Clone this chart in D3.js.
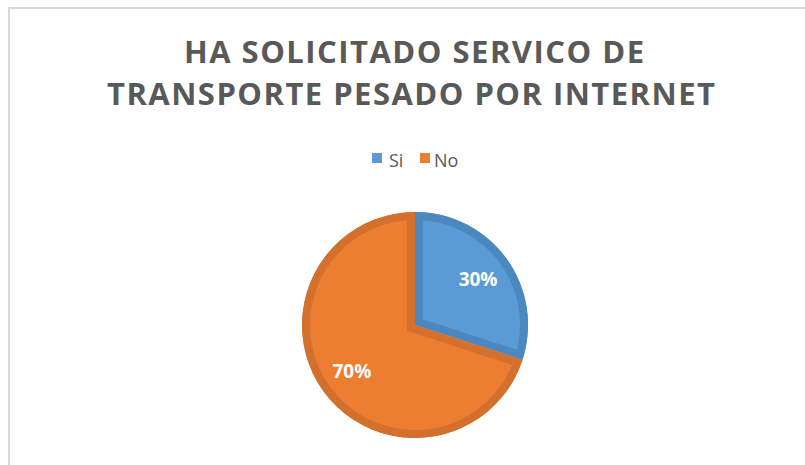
<!DOCTYPE html>
<html>
<head>
<meta charset="utf-8">
<script src="https://cdn.jsdelivr.net/npm/d3@7"></script>
<style>
html,body{margin:0;padding:0;background:#fff;}
svg{display:block;}
</style>
</head>
<body>
<svg id="chart" width="805" height="465"></svg>
<script>
const titleLines = ["HA SOLICITADO SERVICO DE", "TRANSPORTE PESADO POR INTERNET"];
const categories = ["Si", "No"];
const values = [30, 70];
const fillColors = ["#5B9BD5", "#ED7D31"];
const borderColors = ["#4C88C0", "#D4702D"];

const svg = d3.select("#chart");

// chart area border
svg.append("rect").attr("x", 9).attr("y", 8).attr("width", 900).attr("height", 500)
  .attr("fill", "#fff").attr("stroke", "#d9d9d9").attr("stroke-width", 2);

// title
const titleTargets = [{y: 63, w: 460, cx: 414}, {y: 105, w: 608, cx: 411}];
titleLines.forEach((t, i) => {
  svg.append("text")
    .attr("x", titleTargets[i].cx).attr("y", titleTargets[i].y)
    .attr("text-anchor", "middle")
    .attr("font-family", "'Open Sans', sans-serif")
    .attr("font-weight", 700)
    .attr("font-size", 31)
    .attr("fill", "#595959")
    .attr("textLength", titleTargets[i].w).attr("lengthAdjust", "spacing")
    .text(t);
});

// legend
const legendItems = [{x: 372, tx: 389}, {x: 420, tx: 434}];
categories.forEach((c, i) => {
  svg.append("rect").attr("x", legendItems[i].x).attr("y", 153)
    .attr("width", 10).attr("height", 10).attr("fill", fillColors[i]);
  svg.append("text").attr("x", legendItems[i].tx).attr("y", 167)
    .attr("font-family", "'Open Sans', sans-serif").attr("font-size", 18)
    .attr("fill", "#595959").text(c);
});

// pie
const cx = 415, cy = 325, R = 113, B = 8;
const pie = d3.pie().sort(null).value(d => d)(values);
const arc = d3.arc().innerRadius(0).outerRadius(R);
const g = svg.append("g").attr("transform", `translate(${cx},${cy})`);
const defs = svg.append("defs");
pie.forEach((p, i) => {
  const id = "clip" + i;
  defs.append("clipPath").attr("id", id).append("path").attr("d", arc(p));
  g.append("path").attr("d", arc(p)).attr("fill", fillColors[i]);
  g.append("path").attr("d", arc(p)).attr("fill", "none")
    .attr("stroke", borderColors[i]).attr("stroke-width", 2 * B)
    .attr("stroke-linejoin", "miter")
    .attr("clip-path", `url(#${id})`);
});
const labelArc = d3.arc().innerRadius(R * 0.69).outerRadius(R * 0.69);
pie.forEach((p, i) => {
  const [lx, ly] = labelArc.centroid(p);
  g.append("text").attr("x", lx).attr("y", ly + 7)
    .attr("text-anchor", "middle")
    .attr("font-family", "'Open Sans', sans-serif").attr("font-weight", 700)
    .attr("font-size", 19).attr("fill", "#fff")
    .text(d3.format(".0%")(p.value / d3.sum(values)));
});
</script>
</body>
</html>
